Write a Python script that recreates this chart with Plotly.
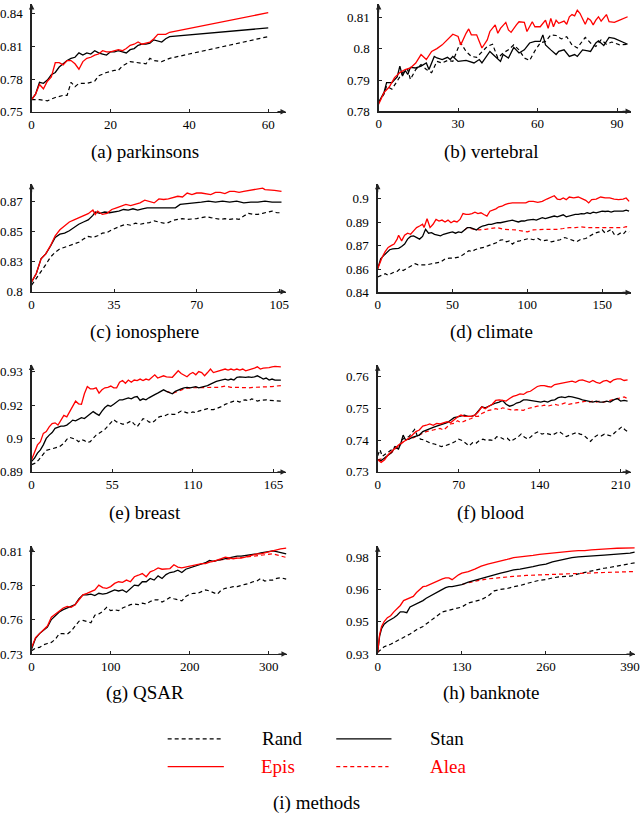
import plotly.graph_objects as go

W, H = 640, 822

# ---------------- (a) parkinsons ----------------
park_x = list(range(36)) + [60]
park_stan = [0.761, 0.766, 0.777, 0.776, 0.779, 0.784, 0.786, 0.791, 0.794, 0.797,
             0.799, 0.800, 0.804, 0.802, 0.804, 0.803, 0.806, 0.804, 0.803, 0.802,
             0.805, 0.805, 0.806, 0.805, 0.804, 0.807, 0.808, 0.811, 0.812, 0.812,
             0.813, 0.816, 0.815, 0.814, 0.817, 0.819, 0.827]
park_epis = [0.761, 0.766, 0.775, 0.771, 0.778, 0.782, 0.795, 0.795, 0.793, 0.797,
             0.797, 0.794, 0.789, 0.796, 0.799, 0.800, 0.802, 0.803, 0.806, 0.805,
             0.805, 0.806, 0.807, 0.806, 0.808, 0.811, 0.812, 0.814, 0.812, 0.813,
             0.814, 0.817, 0.821, 0.821, 0.821, 0.823, 0.841]
park_rand_x = [0, 2, 4, 6, 8, 9, 10, 11, 12, 14, 16, 17, 19, 21, 22, 23, 25, 27, 29, 30, 31, 33, 35, 60]
park_rand = [0.761, 0.761, 0.760, 0.763, 0.765, 0.765, 0.777, 0.773, 0.776, 0.776, 0.778, 0.783,
             0.786, 0.788, 0.788, 0.792, 0.796, 0.795, 0.794, 0.799, 0.797, 0.796, 0.799, 0.819]

# ---------------- (b) vertebral ----------------
vert_epis_x = [0, 2, 4, 6, 8, 10, 12, 14, 16, 18, 20, 22, 24, 26, 28, 30, 31, 33, 34, 35,
               37, 38, 39, 41, 42, 44, 45, 46, 48, 49, 50, 52, 53, 55, 56, 58, 59, 61, 63, 64,
               65, 66, 67, 68, 70, 71, 72, 73, 74, 75, 76, 78, 79, 80, 81, 82, 83, 84, 86, 87,
               89, 91, 94]
vert_epis = [0.7823, 0.786, 0.7878, 0.7908, 0.7924, 0.7934, 0.7939, 0.7955, 0.7982, 0.7966,
             0.7992, 0.8001, 0.8013, 0.8029, 0.8047, 0.804, 0.8013, 0.805, 0.8064, 0.8045,
             0.8045, 0.8024, 0.8003, 0.8029, 0.8056, 0.8077, 0.805, 0.8066, 0.8085, 0.8061,
             0.8053, 0.8077, 0.8087, 0.8085, 0.8056, 0.8087, 0.8071, 0.8071, 0.8092, 0.8066,
             0.8098, 0.8071, 0.8092, 0.8082, 0.8089, 0.8079, 0.8103, 0.811, 0.8106, 0.8124,
             0.8114, 0.8079, 0.8098, 0.8092, 0.8077, 0.8092, 0.8103, 0.8089, 0.811, 0.8087,
             0.8085, 0.8092, 0.8103]
vert_stan_x = [0, 2, 3, 5, 7, 8, 9, 10, 11, 12, 14, 16, 18, 19, 21, 22, 24, 26, 27, 28,
               30, 33, 36, 38, 39, 42, 44, 46, 47, 49, 51, 53, 55, 57, 59, 61, 62, 63, 65, 67,
               68, 70, 72, 74, 75, 77, 79, 80, 82, 83, 85, 87, 89, 91, 94]
vert_stan = [0.7829, 0.786, 0.7892, 0.7892, 0.791, 0.7945, 0.7913, 0.7931, 0.7918, 0.7941,
             0.7939, 0.7945, 0.7955, 0.7934, 0.7976, 0.7971, 0.7966, 0.7973, 0.7966, 0.7976,
             0.796, 0.7963, 0.7955, 0.7966, 0.7955, 0.7992, 0.7976, 0.796, 0.7982, 0.7971,
             0.8005, 0.7987, 0.7997, 0.8019, 0.8024, 0.8024, 0.8045, 0.8013, 0.7997, 0.7982,
             0.7992, 0.7997, 0.7976, 0.7982, 0.7976, 0.7997, 0.7994, 0.7992, 0.8019, 0.8026,
             0.8011, 0.8037, 0.8034, 0.8026, 0.8015]
vert_rand_x = [0, 2, 3, 5, 7, 9, 11, 12, 14, 16, 18, 20, 22, 24, 26, 28, 30, 31, 33, 35,
               37, 39, 41, 43, 45, 47, 49, 51, 53, 55, 57, 59, 61, 63, 65, 67, 69, 71, 73, 75,
               77, 78, 80, 82, 84, 86, 88, 91, 94]
vert_rand = [0.7829, 0.7855, 0.7881, 0.7871, 0.7897, 0.7924, 0.7934, 0.7902, 0.7934, 0.795,
             0.7934, 0.7924, 0.796, 0.7955, 0.7963, 0.796, 0.8003, 0.8019, 0.7992, 0.7976,
             0.7973, 0.7992, 0.8008, 0.8015, 0.7971, 0.7987, 0.7997, 0.8013, 0.7997, 0.7971,
             0.7963, 0.7994, 0.8019, 0.8024, 0.8045, 0.8043, 0.8032, 0.8039, 0.8013, 0.8003,
             0.8026, 0.8037, 0.8019, 0.8008, 0.8029, 0.8015, 0.8022, 0.8013, 0.8015]

# ---------------- (c) ionosphere ----------------
iono_epis_x = [0, 2, 4, 6, 8, 10, 12, 14, 16, 18, 20, 22, 24, 26, 27, 28, 30, 32, 34, 36,
               38, 40, 42, 44, 46, 48, 50, 52, 54, 56, 58, 60, 62, 64, 66, 68, 70, 72, 74, 76,
               78, 80, 82, 84, 86, 88, 90, 92, 94, 96, 98, 99, 101, 103, 106]
iono_epis = [0.8082, 0.8151, 0.8274, 0.8315, 0.8383, 0.8465, 0.8515, 0.8548, 0.858, 0.8597,
             0.8616, 0.863, 0.8649, 0.8679, 0.8643, 0.8671, 0.8643, 0.8652, 0.8684, 0.8698,
             0.8712, 0.8726, 0.8717, 0.8726, 0.8739, 0.8761, 0.8753, 0.8739, 0.8772, 0.8767,
             0.8772, 0.878, 0.8794, 0.8788, 0.8821, 0.8808, 0.8821, 0.8821, 0.8816, 0.8808,
             0.8827, 0.8827, 0.8816, 0.8835, 0.8835, 0.8827, 0.8835, 0.8843, 0.8849, 0.8854,
             0.8862, 0.8849, 0.8849, 0.8843, 0.8835]
iono_stan_x = [0, 2, 4, 6, 8, 10, 12, 14, 16, 18, 20, 22, 24, 26, 27, 29, 31, 33, 35, 37,
               39, 41, 43, 45, 47, 49, 52, 55, 58, 61, 63, 66, 69, 72, 75, 78, 81, 84, 87, 90,
               93, 96, 99, 102, 106]
iono_stan = [0.8082, 0.8151, 0.8274, 0.8315, 0.8378, 0.8452, 0.8479, 0.8487, 0.8507, 0.8534,
             0.8561, 0.858, 0.8597, 0.8635, 0.8663, 0.8652, 0.8663, 0.8657, 0.8663, 0.8671,
             0.8684, 0.8679, 0.869, 0.8679, 0.869, 0.8698, 0.8698, 0.8698, 0.8698, 0.8698,
             0.8726, 0.8731, 0.8739, 0.8745, 0.8753, 0.8745, 0.8753, 0.8745, 0.8753, 0.8739,
             0.8745, 0.8745, 0.8753, 0.8745, 0.8745]
iono_rand_x = list(range(0, 107, 2))
iono_rand = [0.8055, 0.811, 0.8164, 0.8225, 0.8288, 0.8329, 0.8356, 0.837, 0.8378, 0.8397,
             0.8411, 0.8438, 0.846, 0.8452, 0.8465, 0.8487, 0.8493, 0.8515, 0.8534, 0.8548,
             0.8561, 0.8553, 0.857, 0.8561, 0.857, 0.8575, 0.8589, 0.858, 0.857, 0.8575,
             0.8594, 0.8602, 0.8608, 0.8602, 0.8602, 0.8608, 0.8616, 0.8624, 0.8616, 0.8608,
             0.8602, 0.8608, 0.8602, 0.8608, 0.8602, 0.863, 0.8652, 0.8643, 0.8643, 0.8652,
             0.8663, 0.8671, 0.8657, 0.8657]

# ---------------- (d) climate ----------------
clim_epis_x = [0, 3, 5, 7, 9, 11, 13, 14, 16, 18, 20, 22, 24, 26, 28, 30, 31, 33, 35, 37,
               39, 41, 43, 45, 47, 49, 51, 53, 55, 57, 59, 61, 63, 65, 67, 69, 71, 73, 75, 77,
               79, 81, 83, 85, 87, 90, 93, 96, 99, 101, 104, 107, 110, 113, 116, 118, 120, 122, 124, 126,
               128, 131, 134, 137, 139, 141, 143, 146, 149, 152, 155, 158, 161, 164, 166, 168]
clim_epis = [0.8552, 0.8626, 0.8662, 0.8689, 0.87, 0.871, 0.8742, 0.8767, 0.8731, 0.8767,
             0.878, 0.8773, 0.8795, 0.8816, 0.8826, 0.8837, 0.8816, 0.8873, 0.8816, 0.8837,
             0.8868, 0.8858, 0.8864, 0.8852, 0.8864, 0.8847, 0.8858, 0.8852, 0.8868, 0.8906,
             0.89, 0.89, 0.8906, 0.8915, 0.8906, 0.8911, 0.89, 0.889, 0.8921, 0.8928,
             0.8936, 0.8949, 0.8953, 0.8963, 0.897, 0.8974, 0.8974, 0.8978, 0.8974, 0.8984,
             0.8984, 0.8978, 0.8984, 0.8999, 0.9012, 0.902, 0.8999, 0.8995, 0.9006, 0.8995,
             0.9012, 0.9006, 0.9012, 0.8999, 0.8991, 0.8974, 0.8995, 0.8999, 0.9012, 0.9006,
             0.9006, 0.8999, 0.8995, 0.8999, 0.9006, 0.8984]
clim_stan_x = list(range(0, 169, 2))
clim_stan = [0.8552, 0.8615, 0.8636, 0.8657, 0.8674, 0.8679, 0.8683, 0.8683, 0.8695, 0.871,
             0.8742, 0.8759, 0.8763, 0.8752, 0.8742, 0.8759, 0.8805, 0.878, 0.8784, 0.8773,
             0.8767, 0.8763, 0.8773, 0.878, 0.8784, 0.8788, 0.878, 0.8788, 0.8784, 0.8801,
             0.8816, 0.8816, 0.881, 0.8801, 0.8816, 0.8826, 0.883, 0.8837, 0.8837, 0.8843,
             0.8847, 0.8847, 0.8852, 0.8858, 0.8858, 0.8864, 0.8858, 0.8852, 0.8858, 0.8858,
             0.8864, 0.8868, 0.8868, 0.8864, 0.8873, 0.888, 0.8873, 0.888, 0.8885, 0.889,
             0.8885, 0.8894, 0.8898, 0.8885, 0.889, 0.8894, 0.89, 0.89, 0.8906, 0.8904,
             0.8911, 0.8906, 0.8915, 0.8911, 0.8915, 0.8921, 0.8919, 0.8921, 0.8915, 0.8921,
             0.8921, 0.8923, 0.8921, 0.8928, 0.8921]
clim_alea_x = [58, 60, 64, 68, 72, 76, 80, 84, 88, 92, 96, 100, 104, 108, 112, 116, 120, 124,
               128, 132, 136, 140, 144, 148, 152, 156, 160, 164, 166, 168]
clim_alea = [0.8801, 0.8816, 0.8805, 0.8801, 0.8805, 0.881, 0.8816, 0.8805, 0.8805, 0.8801,
             0.8795, 0.8788, 0.8801, 0.8805, 0.8805, 0.8805, 0.8805, 0.881, 0.8816, 0.8816,
             0.882, 0.8816, 0.8816, 0.8816, 0.8816, 0.8816, 0.8816, 0.8816, 0.8822, 0.8816]
clim_rand_x = [0, 3, 5, 7, 9, 11, 13, 15, 17, 19, 21, 23, 25, 27, 30, 33, 36, 39, 42, 45,
               48, 51, 54, 57, 59, 61, 63, 65, 68, 71, 74, 77, 80, 82, 84, 86, 88, 90, 92, 95,
               98, 101, 104, 107, 110, 113, 116, 119, 122, 125, 127, 130, 133, 136, 139, 142, 145, 148, 150, 152,
               154, 156, 158, 160, 162, 164, 166, 168]
clim_rand = [0.8499, 0.851, 0.852, 0.851, 0.852, 0.8531, 0.8535, 0.8552, 0.8541, 0.8552,
             0.8563, 0.8573, 0.8584, 0.8577, 0.8577, 0.8577, 0.8584, 0.859, 0.8594, 0.8615,
             0.862, 0.862, 0.8626, 0.8641, 0.8657, 0.8668, 0.8662, 0.8674, 0.8683, 0.8689,
             0.87, 0.871, 0.8721, 0.8736, 0.8738, 0.8725, 0.8731, 0.871, 0.8725, 0.8731,
             0.8738, 0.8746, 0.8738, 0.8746, 0.8731, 0.8736, 0.8725, 0.8731, 0.8738, 0.8752,
             0.8746, 0.8738, 0.8725, 0.8742, 0.8746, 0.8763, 0.878, 0.8788, 0.8801, 0.878,
             0.8795, 0.8805, 0.8773, 0.8767, 0.878, 0.8773, 0.8795, 0.8788]

# ---------------- (e) breast ----------------
brst_x = list(range(0, 167, 2)) + [170]
brst_epis = [0.8949, 0.8982, 0.9008, 0.9021, 0.9054, 0.9061, 0.908, 0.9093, 0.9096, 0.9087,
             0.9107, 0.9126, 0.912, 0.914, 0.9162, 0.9183, 0.9172, 0.917, 0.9212, 0.9241,
             0.9232, 0.9232, 0.9236, 0.9215, 0.9228, 0.9236, 0.9238, 0.9243, 0.9236, 0.9236,
             0.9258, 0.9265, 0.9254, 0.9267, 0.9258, 0.9267, 0.9265, 0.9271, 0.9265, 0.9271,
             0.9267, 0.9278, 0.9288, 0.9275, 0.928, 0.9284, 0.928, 0.928, 0.9278, 0.9291,
             0.9304, 0.9293, 0.9288, 0.928, 0.9291, 0.9297, 0.9288, 0.9301, 0.9297, 0.9284,
             0.9297, 0.9311, 0.9297, 0.9301, 0.9304, 0.9307, 0.9311, 0.9307, 0.9311, 0.9307,
             0.9311, 0.9307, 0.9311, 0.9304, 0.9307, 0.9311, 0.9315, 0.932, 0.9311, 0.9315,
             0.9315, 0.9317, 0.932, 0.9322, 0.932]
brst_stan = [0.8942, 0.8955, 0.8975, 0.8988, 0.9008, 0.9034, 0.9047, 0.9057, 0.9074, 0.908,
             0.9083, 0.9083, 0.9087, 0.9096, 0.9107, 0.9104, 0.9109, 0.9117, 0.9113, 0.9122,
             0.9133, 0.9141, 0.9133, 0.9126, 0.9143, 0.9157, 0.9166, 0.9162, 0.917, 0.9179,
             0.9188, 0.9188, 0.9192, 0.9196, 0.9192, 0.9199, 0.9201, 0.9186, 0.9192, 0.9188,
             0.9196, 0.9201, 0.9209, 0.9215, 0.9222, 0.9228, 0.9222, 0.9218, 0.9212, 0.9222,
             0.9228, 0.9232, 0.9236, 0.9238, 0.9236, 0.9238, 0.9241, 0.9236, 0.9238, 0.9241,
             0.9245, 0.9251, 0.9258, 0.9262, 0.9265, 0.9267, 0.9271, 0.9267, 0.9271, 0.9267,
             0.9278, 0.928, 0.9278, 0.9278, 0.928, 0.9278, 0.928, 0.9284, 0.9278, 0.9271,
             0.9275, 0.9267, 0.9271, 0.9267, 0.9267]
brst_alea_x = list(range(92, 165, 4)) + [170]
brst_alea = [0.9222, 0.9214, 0.9222, 0.9232, 0.9236, 0.9236, 0.9236, 0.9236, 0.9238, 0.9238,
             0.9243, 0.9238, 0.9238, 0.9236, 0.9236, 0.9238, 0.9238, 0.9238, 0.9241, 0.9245]
brst_rand_x = [0, 3, 5, 8, 10, 13, 16, 19, 22] + list(range(24, 167, 2)) + [170]
brst_rand = [0.8929, 0.8936, 0.8949, 0.8972, 0.8986, 0.8991, 0.8995, 0.9001, 0.9014,
             0.903, 0.9038, 0.9034, 0.903, 0.9021, 0.903, 0.9025, 0.9017, 0.9021, 0.9034,
             0.9047, 0.9054, 0.9061, 0.907, 0.9083, 0.9096, 0.9109, 0.91, 0.9096, 0.9091,
             0.9091, 0.9096, 0.9104, 0.9091, 0.908, 0.9096, 0.9113, 0.9109, 0.91, 0.9096,
             0.9104, 0.9117, 0.9122, 0.9122, 0.9126, 0.9133, 0.913, 0.913, 0.9136, 0.9143,
             0.914, 0.9136, 0.9136, 0.914, 0.9136, 0.9143, 0.9146, 0.9149, 0.9153, 0.9149,
             0.9149, 0.9153, 0.9157, 0.9162, 0.917, 0.9175, 0.9179, 0.9183, 0.9183, 0.9179,
             0.9186, 0.9188, 0.9183, 0.9192, 0.9188, 0.9183, 0.9186, 0.9188, 0.9188, 0.9186,
             0.9186, 0.9183, 0.9183]

# ---------------- (f) blood ----------------
blood_epis_x = list(range(0, 217, 3))
blood_epis = [0.7338, 0.733, 0.7338, 0.7354, 0.7364, 0.7375, 0.7385, 0.7392, 0.7399, 0.7406,
              0.7416, 0.7427, 0.7432, 0.7444, 0.7447, 0.7451, 0.7447, 0.7453, 0.7451, 0.7455,
              0.7458, 0.7455, 0.7465, 0.7473, 0.7479, 0.7475, 0.7475, 0.7475, 0.7479, 0.7489,
              0.7505, 0.7499, 0.7507, 0.7513, 0.7525, 0.7527, 0.7525, 0.7523, 0.7531, 0.7538,
              0.7541, 0.7546, 0.7544, 0.7551, 0.7554, 0.7562, 0.7569, 0.7572, 0.7572, 0.7569,
              0.7567, 0.7575, 0.7577, 0.7579, 0.7582, 0.7582, 0.7586, 0.7582, 0.7588, 0.759,
              0.7586, 0.7582, 0.7588, 0.7582, 0.7579, 0.7586, 0.7588, 0.7582, 0.759, 0.7593,
              0.7593, 0.7588, 0.759]
blood_stan_x = [0, 3, 6, 9, 12, 15, 18, 20, 22] + list(range(24, 217, 3))
blood_stan = [0.7338, 0.7336, 0.7344, 0.7354, 0.7361, 0.7378, 0.7372, 0.739, 0.7416,
              0.7401, 0.7403, 0.7409, 0.7413, 0.7416, 0.7427, 0.7432, 0.7437, 0.744, 0.7444,
              0.7447, 0.7451, 0.7455, 0.7463, 0.7471, 0.7473, 0.7475, 0.7479, 0.7475, 0.7475,
              0.7479, 0.7494, 0.7505, 0.7502, 0.7507, 0.7513, 0.7517, 0.752, 0.7525, 0.7513,
              0.7507, 0.751, 0.7517, 0.752, 0.7527, 0.7527, 0.7525, 0.7525, 0.7523, 0.752,
              0.7523, 0.752, 0.7525, 0.7527, 0.7534, 0.7536, 0.7534, 0.7538, 0.7536, 0.7534,
              0.7531, 0.7527, 0.7525, 0.7523, 0.752, 0.7523, 0.752, 0.752, 0.7523, 0.752,
              0.7527, 0.7531, 0.7523, 0.7525, 0.7523]
blood_alea_x = [0, 6, 12, 18, 24, 30, 36, 42, 48, 54] + list(range(57, 217, 3))
blood_alea = [0.7338, 0.7344, 0.7361, 0.738, 0.7401, 0.7406, 0.7416, 0.7427, 0.7432, 0.7437,
              0.7432, 0.7442, 0.7451, 0.7453, 0.7461, 0.7455, 0.7461, 0.7465, 0.7468, 0.7475,
              0.7475, 0.7484, 0.7489, 0.7494, 0.7496, 0.7499, 0.7496, 0.7502, 0.7499, 0.7496,
              0.7494, 0.7496, 0.7494, 0.7494, 0.7499, 0.7502, 0.7505, 0.7507, 0.7507, 0.751,
              0.7507, 0.751, 0.7513, 0.751, 0.7513, 0.7517, 0.7513, 0.7515, 0.7517, 0.752,
              0.752, 0.7523, 0.752, 0.7523, 0.752, 0.7523, 0.752, 0.7523, 0.7525, 0.7527,
              0.7531, 0.7534, 0.7536, 0.7531]
blood_rand_x = [0, 2, 4, 6, 9, 12, 15, 18, 21, 24, 27, 30, 32, 34] + list(range(37, 215, 3)) + [216]
blood_rand = [0.7351, 0.737, 0.7349, 0.7354, 0.7364, 0.737, 0.738, 0.7375, 0.7401, 0.7409,
              0.7411, 0.7427, 0.7434, 0.7416,
              0.7403, 0.7401, 0.7396, 0.739, 0.7388, 0.7385, 0.738, 0.7382, 0.7385, 0.739,
              0.7396, 0.7403, 0.7399, 0.739, 0.7382, 0.7392, 0.739, 0.7399, 0.7403, 0.7399,
              0.7401, 0.7399, 0.7411, 0.7409, 0.7403, 0.7406, 0.7396, 0.7403, 0.7409, 0.7419,
              0.7409, 0.7403, 0.7413, 0.7422, 0.7427, 0.7419, 0.7422, 0.7419, 0.7416, 0.7422,
              0.7427, 0.7419, 0.7411, 0.7416, 0.7419, 0.7424, 0.7419, 0.7416, 0.7406, 0.7396,
              0.7409, 0.7416, 0.7413, 0.7419, 0.7416, 0.7413, 0.7424, 0.7432, 0.7442, 0.7432,
              0.7427]

# ---------------- (g) QSAR ----------------
qsar_x = list(range(0, 316, 5)) + [322]
qsar_epis = [0.7351, 0.7428, 0.7459, 0.7492, 0.7518, 0.7587, 0.7613, 0.7633, 0.7659, 0.7672,
             0.7664, 0.7685, 0.7723, 0.7762, 0.7774, 0.7787, 0.78, 0.7838, 0.7818, 0.7813,
             0.7826, 0.7851, 0.7864, 0.7859, 0.7877, 0.7864, 0.7903, 0.7915, 0.7928, 0.7903,
             0.7941, 0.7954, 0.7972, 0.7962, 0.7962, 0.7967, 0.7997, 0.7979, 0.7972, 0.7979,
             0.7987, 0.7992, 0.7997, 0.8005, 0.8005, 0.8018, 0.8023, 0.8031, 0.8044, 0.8056,
             0.8049, 0.8044, 0.8049, 0.8049, 0.8056, 0.8064, 0.8069, 0.8082, 0.8082, 0.809,
             0.8095, 0.81, 0.8108, 0.8121, 0.8126]
qsar_stan = [0.7338, 0.7423, 0.7459, 0.7485, 0.751, 0.7569, 0.7595, 0.7628, 0.7646, 0.7659,
             0.7672, 0.7685, 0.7731, 0.7762, 0.7762, 0.7767, 0.7756, 0.7774, 0.7767, 0.7774,
             0.7787, 0.78, 0.7792, 0.78, 0.7782, 0.7813, 0.7838, 0.7833, 0.7864, 0.7864,
             0.789, 0.7877, 0.791, 0.789, 0.792, 0.7936, 0.7941, 0.7954, 0.7936, 0.7962,
             0.7972, 0.7979, 0.7992, 0.7997, 0.8013, 0.8031, 0.8023, 0.8031, 0.8038, 0.8044,
             0.8049, 0.8056, 0.8064, 0.8064, 0.8069, 0.8069, 0.8074, 0.8082, 0.809, 0.8095,
             0.81, 0.8105, 0.81, 0.809, 0.8082]
qsar_alea_x = [220, 240, 260, 270, 280, 290, 300, 305, 310, 315, 322]
qsar_alea = [0.8013, 0.8036, 0.8049, 0.8056, 0.8064, 0.8069, 0.8077, 0.8082, 0.8074, 0.8064, 0.8054]
qsar_rand = [0.7326, 0.7346, 0.7351, 0.7372, 0.7382, 0.739, 0.7415, 0.7459, 0.7459, 0.7454,
             0.7479, 0.7518, 0.7556, 0.7562, 0.7556, 0.7544, 0.7603, 0.7613, 0.7633, 0.7664,
             0.7638, 0.7646, 0.7638, 0.7659, 0.7672, 0.7685, 0.769, 0.7685, 0.7697, 0.769,
             0.771, 0.7723, 0.7723, 0.7705, 0.7723, 0.7741, 0.7731, 0.7723, 0.7715, 0.7749,
             0.7767, 0.7774, 0.7774, 0.7787, 0.78, 0.7792, 0.7782, 0.7767, 0.78, 0.7813,
             0.7818, 0.7826, 0.7826, 0.7838, 0.7844, 0.7851, 0.7864, 0.7869, 0.789, 0.7869,
             0.7877, 0.7877, 0.789, 0.7895, 0.7885]

# ---------------- (h) banknote ----------------
bank_x = [0, 3, 6] + list(range(10, 131, 5)) + list(range(140, 391, 10)) + [397]
bank_epis = [0.9308, 0.94, 0.9442,
             0.9467, 0.9487, 0.9497, 0.9517, 0.9533, 0.955, 0.9575, 0.9583, 0.9587, 0.9597,
             0.9617, 0.9633, 0.9647, 0.965, 0.9658, 0.9663, 0.967, 0.968, 0.9687, 0.9692,
             0.9692, 0.9683, 0.9697, 0.9708, 0.9717,
             0.9725, 0.9737, 0.9753, 0.9763, 0.977, 0.978, 0.9787, 0.9797, 0.98, 0.9803,
             0.9808, 0.9813, 0.9817, 0.982, 0.9825, 0.9827, 0.983, 0.9833, 0.9833, 0.9837,
             0.984, 0.9842, 0.9843, 0.9845, 0.9847, 0.9847, 0.9847]
bank_stan = [0.9308, 0.9392, 0.943,
             0.9453, 0.9467, 0.9475, 0.9487, 0.95, 0.9517, 0.9517, 0.9513, 0.9542, 0.955,
             0.9558, 0.9563, 0.9575, 0.9587, 0.9597, 0.9603, 0.9613, 0.9625, 0.9633, 0.9642,
             0.9647, 0.9647, 0.965, 0.9653, 0.9658,
             0.967, 0.968, 0.9687, 0.9697, 0.9708, 0.9717, 0.9725, 0.9733, 0.9737, 0.9742,
             0.975, 0.9758, 0.9763, 0.9775, 0.9783, 0.9792, 0.9797, 0.98, 0.9803, 0.9807,
             0.9808, 0.981, 0.9812, 0.9813, 0.9817, 0.982, 0.9825]
bank_alea_x = list(range(130, 371, 20)) + [397]
bank_alea = [0.9658, 0.9675, 0.9687, 0.9695, 0.97, 0.9705, 0.9708, 0.971, 0.9713, 0.9715,
             0.9717, 0.972, 0.9722, 0.9725]
bank_rand_x = list(range(0, 391, 10)) + [397]
bank_rand = [0.9308, 0.9337, 0.935, 0.9367, 0.9383, 0.9403, 0.9425, 0.9442, 0.9467, 0.9492,
             0.9517, 0.9525, 0.9533, 0.9542, 0.9563, 0.957, 0.958, 0.9597, 0.9625, 0.9633,
             0.9637, 0.9647, 0.9653, 0.9663, 0.967, 0.968, 0.9683, 0.9692, 0.9697, 0.97,
             0.9703, 0.9713, 0.972, 0.973, 0.9737, 0.9742, 0.9747, 0.9753, 0.9758, 0.9763,
             0.977]

methods = ["Rand", "Stan", "Epis", "Alea"]

STYLE = {
    "Rand": dict(color="black", width=1.2, dash="4px,3px"),
    "Stan": dict(color="black", width=1.3),
    "Epis": dict(color="#ff0000", width=1.3),
    "Alea": dict(color="#ff0000", width=1.2, dash="4px,3px"),
}

SERIF = "Liberation Serif"

# px boxes: (left, right, bottom, top) in page pixels, x range max, y range
panels = [
    dict(cap="(a) parkinsons", box=(28, 286, 111, 2), xmax=64.5, yr=(0.75, 0.849),
         xt=[0, 20, 40, 60], yt=[0.75, 0.78, 0.81, 0.84], ytt=["0.75", "0.78", "0.81", "0.84"], capy=152,
         series=[("Rand", park_rand_x, park_rand), ("Stan", park_x, park_stan), ("Epis", park_x, park_epis)]),
    dict(cap="(b) vertebral", box=(380, 636, 110.7, 2), xmax=95.3, yr=(0.78, 0.8144),
         xt=[0, 30, 60, 90], yt=[0.78, 0.79, 0.80, 0.81], ytt=["0.78", "0.79", "0.8", "0.81"], capy=152,
         series=[("Rand", vert_rand_x, vert_rand), ("Stan", vert_stan_x, vert_stan), ("Epis", vert_epis_x, vert_epis)]),
    dict(cap="(c) ionosphere", box=(28, 286, 293.3, 184), xmax=107.9, yr=(0.80, 0.8898),
         xt=[0, 35, 70, 105], yt=[0.80, 0.825, 0.85, 0.875], ytt=["0.8", "0.83", "0.85", "0.87"], capy=334,
         series=[("Rand", iono_rand_x, iono_rand), ("Stan", iono_stan_x, iono_stan), ("Epis", iono_epis_x, iono_epis)]),
    dict(cap="(d) climate", box=(379, 636, 294, 184), xmax=169.3, yr=(0.84, 0.9097),
         xt=[0, 50, 100, 150], yt=[0.84, 0.855, 0.87, 0.885, 0.90], ytt=["0.84", "0.86", "0.87", "0.89", "0.9"], capy=334,
         series=[("Rand", clim_rand_x, clim_rand), ("Alea", clim_alea_x, clim_alea),
                 ("Stan", clim_stan_x, clim_stan), ("Epis", clim_epis_x, clim_epis)]),
    dict(cap="(e) breast", box=(28, 286, 475.7, 367), xmax=173.5, yr=(0.89, 0.9329),
         xt=[0, 55, 110, 165], yt=[0.89, 0.90333, 0.91667, 0.93], ytt=["0.89", "0.9", "0.92", "0.93"], capy=517,
         series=[("Rand", brst_rand_x, brst_rand), ("Alea", brst_alea_x, brst_alea),
                 ("Stan", brst_x, brst_stan), ("Epis", brst_x, brst_epis)]),
    dict(cap="(f) blood", box=(379, 636, 475.7, 367.7), xmax=219, yr=(0.73, 0.7636),
         xt=[0, 70, 140, 210], yt=[0.73, 0.74, 0.75, 0.76], ytt=["0.73", "0.74", "0.75", "0.76"], capy=517,
         series=[("Rand", blood_rand_x, blood_rand), ("Alea", blood_alea_x, blood_alea),
                 ("Stan", blood_stan_x, blood_stan), ("Epis", blood_epis_x, blood_epis)]),
    dict(cap="(g) QSAR", box=(28, 287, 660, 551), xmax=323, yr=(0.73, 0.8141),
         xt=[0, 100, 200, 300], yt=[0.73, 0.75667, 0.78333, 0.81], ytt=["0.73", "0.76", "0.78", "0.81"], capy=700,
         series=[("Rand", qsar_x, qsar_rand), ("Alea", qsar_alea_x, qsar_alea),
                 ("Stan", qsar_x, qsar_stan), ("Epis", qsar_x, qsar_epis)]),
    dict(cap="(h) banknote", box=(379, 640, 660, 551), xmax=397.6, yr=(0.93, 0.9855),
         xt=[0, 130, 260, 390], yt=[0.93, 0.94667, 0.96333, 0.98], ytt=["0.93", "0.95", "0.96", "0.98"], capy=700,
         series=[("Rand", bank_rand_x, bank_rand), ("Alea", bank_alea_x, bank_alea),
                 ("Stan", bank_x, bank_stan), ("Epis", bank_x, bank_epis)]),
]

fig = go.Figure()
annotations = []
shapes = []

for i, p in enumerate(panels, start=1):
    left, right, bottom, top = p["box"]
    xa, ya = f"x{i}", f"y{i}"
    for name, xs, ys in p["series"]:
        assert len(xs) == len(ys), (p["cap"], name, len(xs), len(ys))
        fig.add_trace(go.Scatter(x=xs, y=ys, mode="lines", line=STYLE[name],
                                 xaxis=xa, yaxis=ya, showlegend=False, hoverinfo="skip"))
    axis_common = dict(showline=True, linecolor="#222", linewidth=1.3, showgrid=False, zeroline=False,
                       ticks="inside", ticklen=3, tickcolor="#222",
                       tickfont=dict(family=SERIF, size=13, color="black"))
    fig.layout[f"xaxis{i}"] = dict(domain=[left / W, right / W], range=[0, p["xmax"]], anchor=ya,
                                   tickvals=p["xt"], ticktext=[str(v) for v in p["xt"]],
                                   ticklabeloverflow="allow", **axis_common)
    fig.layout[f"yaxis{i}"] = dict(domain=[1 - bottom / H, 1 - top / H], range=list(p["yr"]), anchor=xa,
                                   tickvals=p["yt"], ticktext=p["ytt"], ticklabelstandoff=5,
                                   **axis_common)
    # axis arrowheads
    annotations.append(dict(x=right / W, y=1 - bottom / H, xref="paper", yref="paper", text="",
                            showarrow=True, ax=-10, ay=0, arrowhead=2, arrowsize=1, arrowwidth=1.1,
                            arrowcolor="#222"))
    annotations.append(dict(x=left / W, y=1 - top / H, xref="paper", yref="paper", text="",
                            showarrow=True, ax=0, ay=10, arrowhead=2, arrowsize=1, arrowwidth=1.1,
                            arrowcolor="#222"))
    cx = 143 if left < 300 else 494
    annotations.append(dict(x=cx / W, y=1 - p["capy"] / H, xref="paper", yref="paper", text=p["cap"],
                            showarrow=False, xanchor="center", yanchor="middle",
                            font=dict(family=SERIF, size=19, color="black")))

# legend block "(i) methods"
legend_rows = [
    ("Rand", 166, 220, 282, 746), ("Stan", 337, 393, 449, 746),
    ("Epis", 166, 223, 278, 774), ("Alea", 337, 390, 450, 774),
]
for name, x0, x1, tx, y in legend_rows:
    st = STYLE[name]
    shapes.append(dict(type="line", xref="paper", yref="paper", x0=x0 / W, x1=x1 / W,
                       y0=1 - y / H, y1=1 - y / H,
                       line=dict(color=st["color"], width=st["width"], dash=st.get("dash", "solid"))))
    annotations.append(dict(x=tx / W, y=1 - y / H, xref="paper", yref="paper", text=name,
                            showarrow=False, xanchor="center", yanchor="middle",
                            font=dict(family=SERIF, size=19, color=st["color"])))
annotations.append(dict(x=317 / W, y=1 - 811 / H, xref="paper", yref="paper", text="(i) methods",
                        showarrow=False, xanchor="center", yanchor="middle",
                        font=dict(family=SERIF, size=19, color="black")))

fig.update_layout(
    width=W, height=H,
    margin=dict(l=0, r=0, t=0, b=0),
    paper_bgcolor="white", plot_bgcolor="white",
    annotations=annotations, shapes=shapes,
    showlegend=False,
)

# page body has a default 8px margin; drop it so the figure sits at the window origin
fig.write_html("out.html", config={"displayModeBar": False, "staticPlot": True},
               post_script="document.body.style.margin='0';document.body.style.overflow='hidden';")
